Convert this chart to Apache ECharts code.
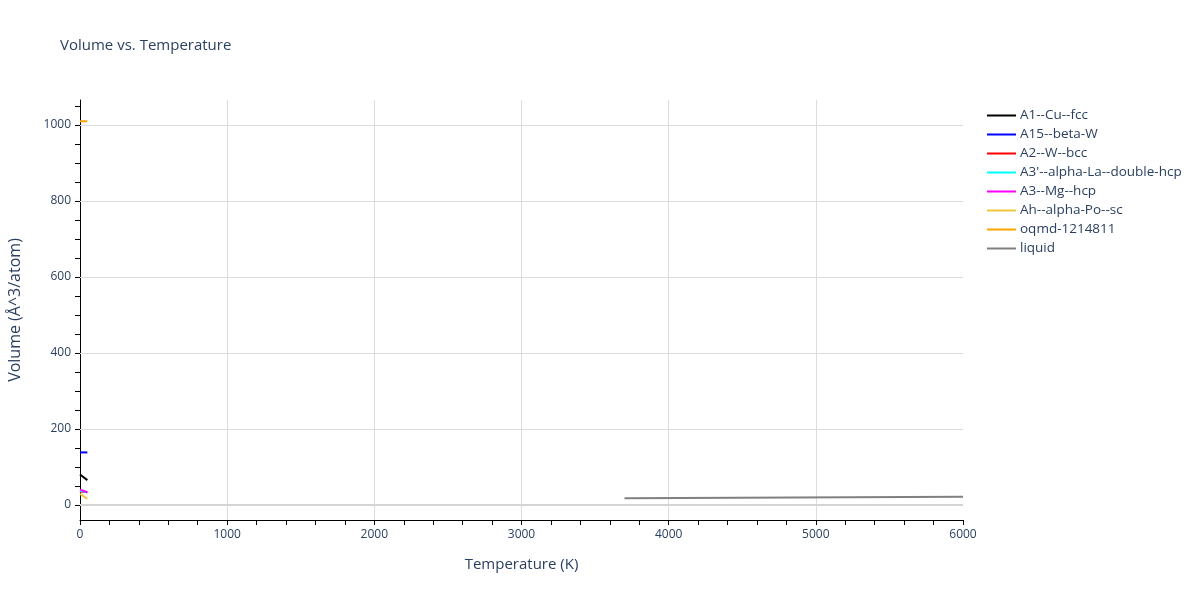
<!DOCTYPE html>
<html>
<head>
<meta charset="utf-8">
<script src="https://cdn.jsdelivr.net/npm/echarts@6/dist/echarts.min.js"></script>
<style>html,body{margin:0;padding:0;background:#fff}#c{width:1200px;height:600px}</style>
</head>
<body>
<div id="c"></div>
<script>
// Data
const seriesNames = ["A1--Cu--fcc","A15--beta-W","A2--W--bcc","A3'--alpha-La--double-hcp","A3--Mg--hcp","Ah--alpha-Po--sc","oqmd-1214811","liquid"];
const seriesColors = ["#000000","#0000ff","#ff0000","#00ffff","#ff00ff","#ecc73c","#ffa500","#808080"];
const tempA1 = [0, 50];       const volA1 = [80, 65];
const tempA15 = [0, 50];      const volA15 = [138, 138];
const tempA2 = [0, 50];       const volA2 = [35, 33];
const tempA3p = [0, 50];      const volA3p = [37, 33];
const tempA3 = [0, 50];       const volA3 = [40, 33];
const tempAh = [0, 50];       const volAh = [29, 16];
const tempOqmd = [0, 50];     const volOqmd = [1010, 1010];
const tempLiquid = [3700, 6000]; const volLiquid = [17.5, 21];
const yLabelTicks = [0, 200, 400, 600, 800, 1000];
const yMinorTicks = [0,50,100,150,200,250,300,350,400,450,500,550,600,650,700,750,800,850,900,950,1000,1050];

const temps = [tempA1, tempA15, tempA2, tempA3p, tempA3, tempAh, tempOqmd, tempLiquid];
const vols = [volA1, volA15, volA2, volA3p, volA3, volAh, volOqmd, volLiquid];

const font = '"Open Sans", "Liberation Sans", sans-serif';
const txt = '#2a3f5f';

const series = seriesNames.map((n, i) => ({
  name: n,
  type: 'line',
  symbol: 'none',
  data: temps[i].map((t, j) => [t, vols[i][j]]),
  lineStyle: { color: seriesColors[i], width: 2 },
  itemStyle: { color: seriesColors[i] },
  z: 3
}));
// gridlines for y axis
series.push({
  type: 'line', data: [], silent: true, z: 1,
  markLine: {
    silent: true, symbol: 'none', label: { show: false },
    data: yLabelTicks.filter(v => v !== 0).map(v => ({ yAxis: v, lineStyle: { color: '#dcdcdc', width: 1, type: 'solid' } }))
      .concat([{ yAxis: 0, lineStyle: { color: '#d4d4d4', width: 2, type: 'solid' } }])
  }
});

const chart = echarts.init(document.getElementById('c'), null, { renderer: 'canvas' });
chart.setOption({
  animation: false,
  backgroundColor: '#fff',
  title: {
    text: 'Volume vs. Temperature', left: 55, top: 33,
    textStyle: { fontFamily: font, fontSize: 15, fontWeight: 'normal', color: txt }
  },
  legend: {
    orient: 'vertical', left: 982, top: 101,
    icon: 'rect', itemWidth: 29, itemHeight: 2, itemGap: 0,
    data: seriesNames,
    textStyle: { fontFamily: font, fontSize: 13.5, color: txt, lineHeight: 19, padding: [0, 0, 0, -1] }
  },
  grid: { left: 80, right: 237, top: 100, bottom: 80, containLabel: false, outerBoundsMode: 'none' },
  xAxis: {
    type: 'value', min: 0, max: 6000, interval: 1000,
    name: 'Temperature (K)', nameLocation: 'middle', nameGap: 37,
    nameTextStyle: { fontFamily: font, fontSize: 15, color: txt },
    axisLine: { show: true, onZero: false, lineStyle: { color: '#000', width: 1 } },
    axisTick: { show: true, length: 5, lineStyle: { color: '#000' } },
    minorTick: { show: true, splitNumber: 5, length: 5, lineStyle: { color: '#000' } },
    axisLabel: { fontFamily: font, fontSize: 12, color: txt, margin: 9, formatter: v => String(v) },
    splitLine: { show: true, showMinLine: false, showMaxLine: false, lineStyle: { color: '#dcdcdc', width: 1 } }
  },
  yAxis: {
    type: 'value', min: -40, max: 1066,
    name: 'Volume (Å^3/atom)', nameLocation: 'middle', nameGap: 57,
    nameTextStyle: { fontFamily: font, fontSize: 16, color: txt },
    axisLine: { show: true, onZero: false, lineStyle: { color: '#000', width: 1 } },
    axisTick: { show: true, length: 5, customValues: yMinorTicks, lineStyle: { color: '#000' } },
    axisLabel: { fontFamily: font, fontSize: 12, color: txt, margin: 9, customValues: yLabelTicks, formatter: v => String(v) },
    splitLine: { show: false }
  },
  series: series
});
</script>
</body>
</html>
